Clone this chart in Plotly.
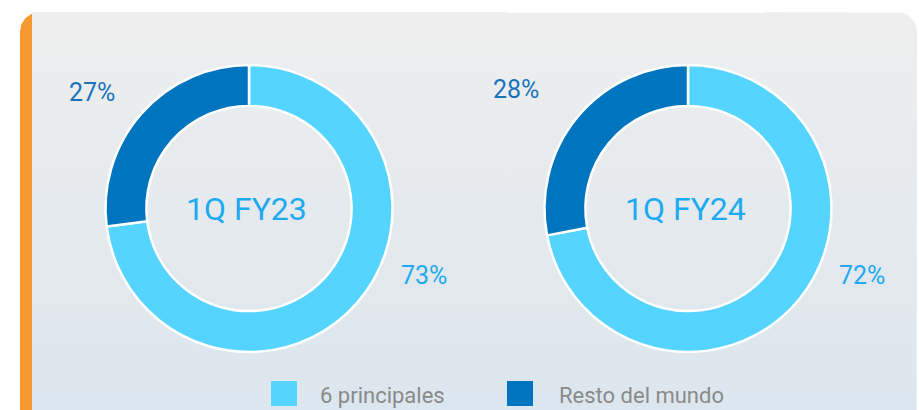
import numpy as np
import plotly.graph_objects as go

# ---- data ----
categories = ["6 principales", "Resto del mundo"]
periods = ["1Q FY23", "1Q FY24"]
values_fy23 = [73, 27]
values_fy24 = [72, 28]
colors = ["#55d4ff", "#0075bf"]

W, H = 919, 410


def rounded_path(x0, y0, x1, y1, r_tl, r_tr, r_br, r_bl, n=16):
    pts = []
    def arc(cx, cy, r, a0, a1):
        if r <= 0:
            pts.append((cx, cy))
            return
        for a in np.linspace(a0, a1, n):
            pts.append((cx + r * np.cos(a), cy + r * np.sin(a)))
    arc(x0 + r_tl, y0 + r_tl, r_tl, np.pi, 1.5 * np.pi)
    arc(x1 - r_tr, y0 + r_tr, r_tr, 1.5 * np.pi, 2 * np.pi)
    arc(x1 - r_br, y1 - r_br, r_br, 0, 0.5 * np.pi)
    arc(x0 + r_bl, y1 - r_bl, r_bl, 0.5 * np.pi, np.pi)
    pts.append(pts[0])
    xs, ys = zip(*pts)
    return list(xs), list(ys)


fig = go.Figure()

# orange left edge of the card
ox, oy = rounded_path(20, 12, 60, 445, 20, 0, 0, 20)
fig.add_trace(go.Scatter(x=ox, y=oy, mode="lines", fill="toself",
                         fillcolor="#f7982f", line=dict(width=0),
                         hoverinfo="skip", showlegend=False))
# gray gradient panel
gx, gy = rounded_path(32, 12, 917, 445, 0, 20, 20, 0)
fig.add_trace(go.Scatter(x=gx, y=gy, mode="lines", fill="toself",
                         fillgradient=dict(type="vertical", start=12, stop=410,
                                           colorscale=[[0, "#eeeeee"], [1, "#dce6ee"]]),
                         line=dict(width=0), hoverinfo="skip", showlegend=False))

# donuts
centers = [(249, 208.5), (688, 208.5)]
R = 143.5
for (cx, cy), vals in zip(centers, [values_fy23, values_fy24]):
    fig.add_trace(go.Pie(
        labels=categories, values=vals, hole=0.715, sort=False,
        direction="clockwise", rotation=0,
        marker=dict(colors=colors, line=dict(color="white", width=2.5)),
        textinfo="none", hoverinfo="label+percent", showlegend=False,
        domain=dict(x=[(cx - R) / W, (cx + R) / W],
                    y=[1 - (cy + R) / H, 1 - (cy - R) / H]),
    ))

font = "Roboto"
ann = []
# center labels
for (cx, cy), p in zip([(246, 209), (685, 209)], periods):
    ann.append(dict(x=cx, y=cy, xref="x", yref="y", text=p, showarrow=False,
                    font=dict(family=font, size=32, color="#1eaaf0"),
                    xanchor="center", yanchor="middle"))
# percentage labels
label_pos = [[(424, 275), (92, 92)], [(862, 275), (516, 89)]]
label_cols = ["#22a9ef", "#1b73bb"]
for vals, poss in zip([values_fy23, values_fy24], label_pos):
    for v, (lx, ly), c in zip(vals, poss, label_cols):
        ann.append(dict(x=lx, y=ly, xref="x", yref="y", text=f"{v}%", showarrow=False,
                        font=dict(family=font, size=25, color=c),
                        xanchor="center", yanchor="middle"))

# legend
shapes = []
leg_sq = [271, 507]
leg_tx = [318, 557]
for name, col, sx, tx in zip(categories, colors, leg_sq, leg_tx):
    shapes.append(dict(type="rect", xref="x", yref="y", x0=sx, x1=sx + 26,
                       y0=381, y1=406, fillcolor=col, line=dict(width=0)))
    ann.append(dict(x=tx, y=395, xref="x", yref="y", text=name, showarrow=False,
                    font=dict(family=font, size=22, color="#8a8a8a"),
                    xanchor="left", yanchor="middle"))

fig.update_layout(
    width=W, height=H, margin=dict(l=0, r=0, t=0, b=0),
    paper_bgcolor="white", plot_bgcolor="rgba(0,0,0,0)",
    xaxis=dict(range=[0, W], visible=False, fixedrange=True),
    yaxis=dict(range=[H, 0], visible=False, fixedrange=True),
    annotations=ann, shapes=shapes, showlegend=False,
)

fig.write_html("out.html", config={"displayModeBar": False},
               post_script="document.body.style.margin='0';document.body.style.overflow='hidden';")
